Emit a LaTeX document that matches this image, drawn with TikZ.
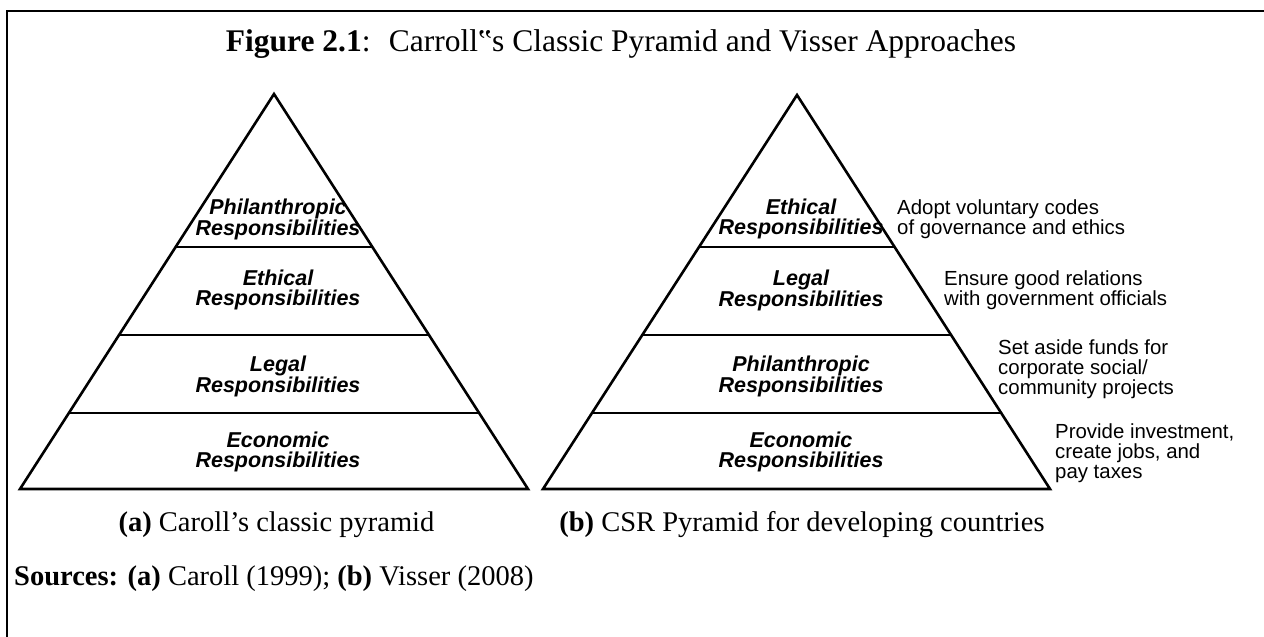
\documentclass[tikz,border=0pt]{standalone}
\usepackage{fontspec}
\setmainfont{Liberation Serif}
\newfontfamily\pyrfont{Liberation Sans}
\usetikzlibrary{calc}
\begin{document}
\begin{tikzpicture}[x=1pt,y=-1pt,
  pyr/.style={line width=2.6pt, line join=miter},
  divider/.style={line width=1.6pt},
  lvl/.style={font=\pyrfont\bfseries\itshape\fontsize{21.5}{19.5}\selectfont, align=center, inner sep=0pt},
  note/.style={font=\pyrfont\fontsize{20.4}{20}\selectfont, align=left, anchor=west, inner sep=0pt},
  captxt/.style={font=\fontsize{28.5}{32}\selectfont, inner sep=0pt, anchor=base}]
\useasboundingbox (0,0) rectangle (1264,637);
\fill[white] (0,0) rectangle (1264,637);
\draw[line width=2pt] (1264,11) -- (7,11) -- (7,637);

% left pyramid
\coordinate (LA) at (274,94);
\coordinate (LB) at (20,489);
\coordinate (LC) at (528,489);
\draw[pyr] (LA) -- (LB) -- (LC) -- cycle;
\draw[divider] ($(LA)!0.3873!(LB)$) -- ($(LA)!0.3873!(LC)$);
\draw[divider] ($(LA)!0.6101!(LB)$) -- ($(LA)!0.6101!(LC)$);
\draw[divider] ($(LA)!0.8076!(LB)$) -- ($(LA)!0.8076!(LC)$);
\node[lvl] (lphil) at (278,219) {Philanthropic\\Responsibilities};
\node[lvl] (leth) at (278,290) {Ethical\\Responsibilities};
\node[lvl] (lleg) at (278,376) {Legal\\Responsibilities};
\node[lvl] (leco) at (278,452) {Economic\\Responsibilities};

% right pyramid
\coordinate (RA) at (797,95);
\coordinate (RB) at (543,489);
\coordinate (RC) at (1050,489);
\draw[pyr] (RA) -- (RB) -- (RC) -- cycle;
\draw[divider] ($(RA)!0.3858!(RB)$) -- ($(RA)!0.3858!(RC)$);
\draw[divider] ($(RA)!0.6091!(RB)$) -- ($(RA)!0.6091!(RC)$);
\draw[divider] ($(RA)!0.8071!(RB)$) -- ($(RA)!0.8071!(RC)$);
\node[lvl] (reth) at (801,219) {Ethical\\Responsibilities};
\node[lvl] (rleg) at (801,290) {Legal\\Responsibilities};
\node[lvl] (rphil) at (801,376) {Philanthropic\\Responsibilities};
\node[lvl] (reco) at (801,452) {Economic\\Responsibilities};

\node[note] (n1) at (897,219) {Adopt voluntary codes\\of governance and ethics};
\node[note] (n2) at (944,290) {Ensure good relations\\with government officials};
\node[note] (n3) at (998,369) {Set aside funds for\\corporate social/\\community projects};
\node[note] (n4) at (1055,453) {Provide investment,\\create jobs, and\\pay taxes};

% captions
\node[captxt, font=\fontsize{31.5}{36}\selectfont] (title) at (621,51) {\textbf{Figure 2.1}:~ Carroll‟s Classic Pyramid and Visser Approaches};
\node[captxt] (capa) at (276.5,531.7) {\textbf{(a)} Caroll’s classic pyramid};
\node[captxt] (capb) at (802,531.7) {\textbf{(b)} CSR Pyramid for developing countries};
\node[captxt, anchor=base west] (src) at (14,585) {\textbf{Sources: (a)} Caroll (1999); \textbf{(b)} Visser (2008)};
\end{tikzpicture}
\end{document}
